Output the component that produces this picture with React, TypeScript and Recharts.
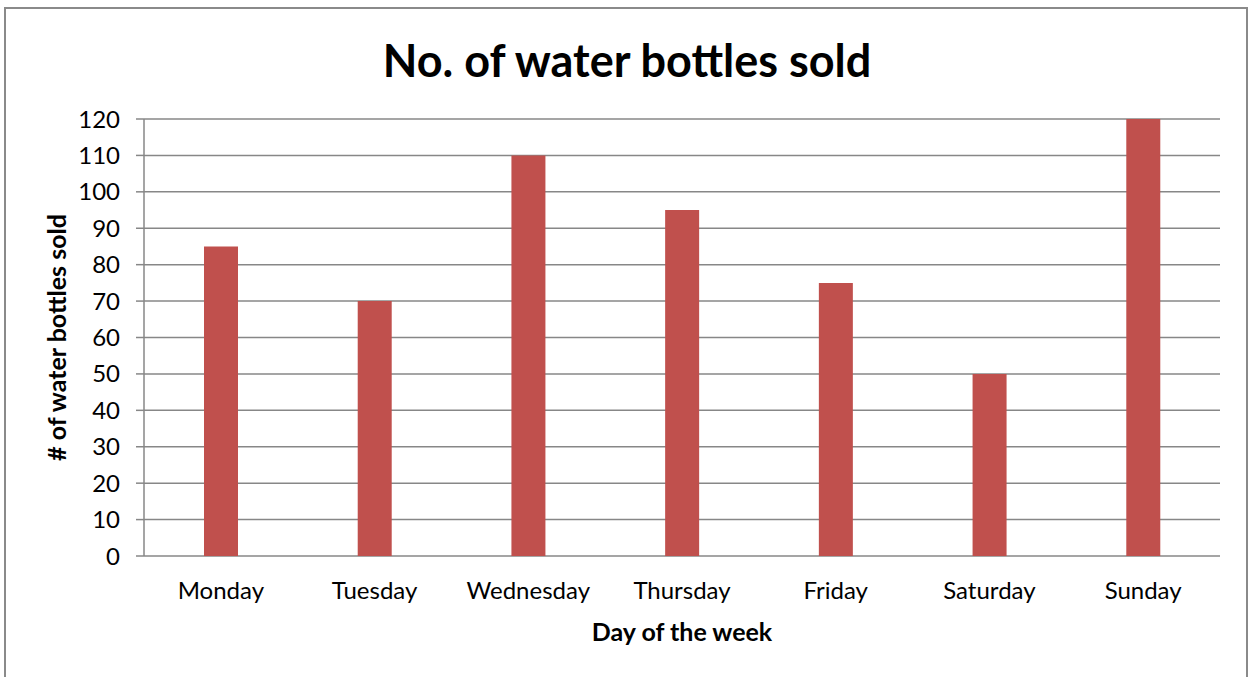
import { BarChart, Bar, XAxis, YAxis, CartesianGrid } from "recharts";

const days = ["Monday", "Tuesday", "Wednesday", "Thursday", "Friday", "Saturday", "Sunday"];
const sold = [85, 70, 110, 95, 75, 50, 120];
const yTicks = [0, 10, 20, 30, 40, 50, 60, 70, 80, 90, 100, 110, 120];
const edgeTicks = [0, 1, 2, 3, 4, 5, 6, 7];

const FONT = "Lato, 'Open Sans', sans-serif";
const GRID = "#878787";

const data = days.map((d, i) => ({ day: d, sold: sold[i] }));

export default function App() {
  return (
    <div style={{ position: "absolute", left: 0, top: 0, width: 1250, height: 677, background: "#fff", overflow: "hidden", fontFamily: FONT }}>
      {/* chart frame */}
      <div style={{ position: "absolute", left: 4, top: 7, width: 1240, height: 720, border: "2px solid #8a8a8a" }} />
      {/* title */}
      <div style={{ position: "absolute", left: 0, width: 1254, top: 33, textAlign: "center", fontSize: 45, fontWeight: 700, color: "#000", lineHeight: "54px" }}>
        No. of water bottles sold
      </div>
      <div style={{ position: "absolute", left: 0, top: 0 }}>
        <BarChart width={1250} height={677} data={data} margin={{ top: 119, right: 30, left: -30, bottom: 0 }}>
          <CartesianGrid vertical={false} stroke={GRID} strokeWidth={1.5} />
          {/* boundary ticks along the x axis */}
          <XAxis
            xAxisId="edge"
            type="number"
            domain={[0, 7]}
            ticks={edgeTicks}
            height={0}
            tick={false}
            tickSize={8}
            axisLine={{ stroke: GRID, strokeWidth: 1.5 }}
            tickLine={{ stroke: GRID, strokeWidth: 1.5 }}
          />
          <XAxis
            xAxisId="cat"
            dataKey="day"
            height={121}
            axisLine={false}
            tickLine={false}
            tickSize={0}
            tickMargin={26}
            tick={{ fill: "#000", fontSize: 24, fontFamily: FONT }}
            label={{ value: "Day of the week", position: "insideBottom", offset: 36, fill: "#000", fontSize: 25, fontWeight: 700, fontFamily: FONT }}
          />
          <YAxis
            width={174}
            domain={[0, 120]}
            ticks={yTicks}
            interval={0}
            tickSize={8}
            tickMargin={16}
            axisLine={{ stroke: GRID, strokeWidth: 1.5 }}
            tickLine={{ stroke: GRID, strokeWidth: 1.5 }}
            tick={{ fill: "#000", fontSize: 24, fontFamily: FONT }}
            label={{ value: "# of water bottles sold", angle: -90, position: "center", fill: "#000", fontSize: 25, fontWeight: 700, fontFamily: FONT }}
          />
          <Bar xAxisId="cat" dataKey="sold" fill="#C0504D" barSize={34} isAnimationActive={false} />
        </BarChart>
      </div>
    </div>
  );
}
